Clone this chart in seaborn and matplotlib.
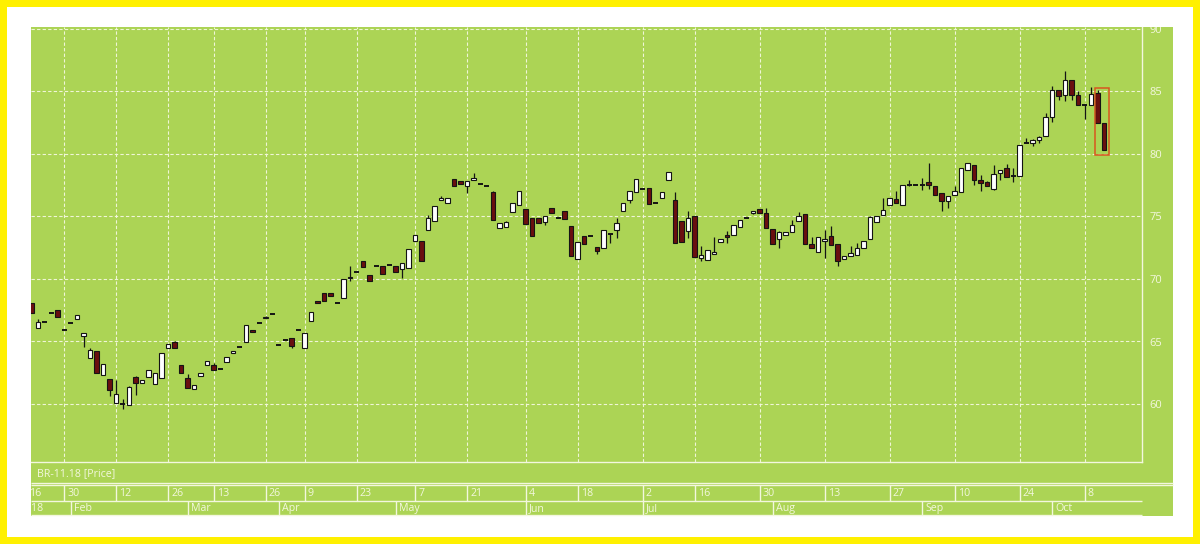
import numpy as np
import pandas as pd
import matplotlib
matplotlib.use("Agg")
import matplotlib.pyplot as plt
import matplotlib.transforms as mtransforms
from matplotlib.patches import Rectangle
import seaborn as sns

# ── data ─────────────────────────────────────────────────────────────────────
opens = [68.1, 66.1, 66.6, 67.25, 67.5, 65.9, 66.5, 66.8, 65.45, 63.7,
         64.25, 62.3, 62.0, 60.1, 60.0, 59.9, 62.2, 61.7, 62.2, 61.6,
         62.1, 64.45, 65.0, 63.1, 62.1, 61.2, 62.25, 63.15, 63.1, 62.8,
         63.35, 64.05, 64.6, 65.0, 65.9, 66.5, 66.85, 67.2, 64.75, 65.15,
         65.25, 65.9, 64.5, 66.65, 68.2, 68.9, 68.9, 68.05, 68.5, 70.15,
         70.55, 71.4, 70.3, 71.05, 71.0, 71.15, 71.05, 70.8, 70.85, 73.05,
         73.05, 73.95, 74.65, 76.3, 76.1, 78.0, 77.8, 77.45, 77.9, 77.6,
         77.4, 77.0, 74.05, 74.2, 75.35, 75.95, 75.6, 74.85, 74.9, 74.6,
         75.65, 74.85, 75.45, 74.25, 71.6, 73.45, 73.45, 72.55, 72.5, 73.6,
         73.95, 75.45, 76.3, 76.95, 77.2, 77.25, 76.05, 76.5, 77.95, 76.3,
         74.65, 73.85, 75.0, 71.65, 71.5, 72.0, 73.0, 73.5, 73.5, 74.2,
         74.9, 75.25, 75.6, 75.25, 74.0, 73.2, 73.5, 73.8, 74.65, 75.2,
         72.8, 72.2, 73.05, 73.4, 72.8, 71.6, 71.85, 71.95, 72.5, 73.2,
         74.6, 75.15, 75.9, 76.4, 75.9, 77.55, 77.55, 77.5, 77.8, 77.45,
         76.9, 76.2, 76.7, 77.0, 78.75, 79.15, 77.95, 77.8, 77.2, 78.5,
         78.85, 78.2, 78.25, 80.85, 80.9, 81.1, 81.4, 82.95, 85.1, 84.7,
         85.9, 84.75, 83.9, 83.9, 84.9, 82.5]
highs = [68.1, 66.8, 66.6, 67.25, 67.5, 65.9, 66.5, 67.1, 65.7, 64.5,
         64.25, 63.2, 62.0, 61.9, 60.4, 61.4, 62.2, 61.9, 62.7, 62.5,
         64.1, 64.8, 65.0, 63.1, 62.4, 61.5, 62.45, 63.45, 63.3, 62.8,
         63.75, 64.2, 64.6, 66.3, 65.9, 66.5, 67.0, 67.2, 64.75, 65.15,
         65.25, 65.9, 65.65, 67.35, 68.2, 68.9, 68.9, 68.05, 70.0, 71.0,
         70.55, 71.4, 70.3, 71.05, 71.0, 71.15, 71.05, 71.25, 72.4, 73.5,
         73.05, 75.1, 75.85, 76.6, 76.5, 78.0, 77.8, 77.85, 78.45, 77.6,
         77.4, 77.0, 74.5, 74.6, 76.05, 77.05, 75.6, 74.85, 74.9, 75.05,
         75.65, 74.85, 75.45, 74.25, 72.95, 73.45, 73.45, 72.55, 73.9, 73.6,
         74.9, 76.1, 77.05, 78.0, 77.2, 77.25, 76.05, 76.95, 78.55, 76.95,
         74.65, 75.4, 75.0, 72.6, 72.3, 73.35, 73.2, 73.8, 74.3, 74.75,
         74.9, 75.45, 75.6, 75.7, 74.0, 73.8, 73.75, 74.7, 75.35, 75.2,
         73.35, 73.35, 73.9, 74.25, 72.8, 71.85, 72.65, 72.9, 73.05, 75.0,
         75.05, 76.5, 76.45, 77.0, 77.5, 77.9, 77.55, 78.1, 79.3, 77.45,
         76.9, 76.65, 77.4, 78.85, 79.3, 79.15, 78.3, 77.8, 79.1, 78.75,
         79.2, 78.9, 80.7, 81.3, 81.2, 81.45, 83.3, 85.4, 85.1, 86.65,
         85.9, 85.0, 83.9, 85.35, 85.1, 82.5]
lows = [67.3, 66.1, 66.6, 67.25, 67.0, 65.9, 66.5, 66.8, 64.6, 63.7,
        62.45, 62.3, 60.6, 60.1, 59.6, 59.9, 60.7, 61.7, 62.2, 61.6,
        62.1, 64.45, 64.5, 62.45, 61.25, 61.2, 62.25, 63.15, 62.7, 62.8,
        63.35, 64.05, 64.6, 65.0, 65.75, 66.5, 66.85, 67.2, 64.75, 65.15,
        64.45, 65.9, 64.5, 66.65, 68.05, 68.25, 68.65, 68.05, 68.5, 69.8,
        70.55, 70.95, 69.85, 71.05, 70.4, 71.15, 70.6, 70.1, 70.85, 73.05,
        71.45, 73.95, 74.65, 76.3, 76.1, 77.4, 77.6, 76.9, 77.9, 77.6,
        77.4, 74.7, 74.05, 74.2, 75.35, 75.95, 74.4, 73.45, 74.45, 74.3,
        75.25, 74.85, 74.8, 71.85, 71.6, 72.8, 73.45, 72.0, 72.5, 72.85,
        73.3, 75.45, 76.1, 76.95, 77.2, 76.0, 76.05, 76.5, 77.95, 72.85,
        73.0, 73.3, 71.8, 71.4, 71.5, 72.0, 73.0, 72.9, 73.5, 74.2,
        74.9, 75.2, 75.3, 74.1, 72.8, 72.5, 73.5, 73.8, 74.65, 72.8,
        72.5, 72.2, 71.65, 72.7, 71.0, 71.6, 71.85, 71.95, 72.5, 73.2,
        74.6, 75.15, 75.9, 76.1, 75.9, 77.4, 77.55, 77.1, 77.2, 76.7,
        75.4, 75.65, 76.7, 77.0, 78.75, 77.5, 77.0, 77.4, 77.1, 77.9,
        78.15, 77.75, 78.25, 80.85, 80.6, 80.9, 81.4, 82.6, 84.3, 84.2,
        84.3, 83.95, 82.8, 83.9, 82.45, 80.3]
closes = [67.3, 66.6, 66.6, 67.25, 67.0, 65.9, 66.5, 67.1, 65.65, 64.3,
          62.45, 63.2, 61.1, 60.8, 60.0, 61.4, 61.65, 61.9, 62.7, 62.5,
          64.1, 64.8, 64.5, 62.45, 61.25, 61.5, 62.45, 63.45, 62.7, 62.8,
          63.75, 64.2, 64.6, 66.3, 65.75, 66.5, 67.0, 67.2, 64.75, 65.15,
          64.65, 65.9, 65.65, 67.35, 68.05, 68.25, 68.65, 68.05, 70.0, 70.05,
          70.55, 70.95, 69.85, 71.05, 70.4, 71.15, 70.6, 71.25, 72.4, 73.5,
          71.45, 74.85, 75.85, 76.5, 76.5, 77.4, 77.6, 77.85, 78.1, 77.6,
          77.4, 74.7, 74.5, 74.6, 76.05, 77.05, 74.4, 73.45, 74.45, 75.05,
          75.25, 74.85, 74.8, 71.85, 72.95, 72.8, 73.45, 72.25, 73.9, 73.6,
          74.5, 76.1, 77.05, 78.0, 77.2, 76.0, 76.05, 76.95, 78.55, 72.85,
          73.0, 74.9, 71.8, 71.9, 72.3, 72.15, 73.2, 73.35, 74.3, 74.75,
          74.9, 75.45, 75.3, 74.1, 72.8, 73.8, 73.75, 74.35, 75.0, 72.8,
          72.5, 73.35, 73.2, 72.7, 71.45, 71.85, 72.05, 72.5, 73.05, 75.0,
          75.05, 75.55, 76.45, 76.1, 77.5, 77.55, 77.55, 77.5, 77.5, 76.7,
          76.2, 76.65, 77.0, 78.85, 79.3, 77.9, 77.65, 77.4, 78.4, 78.75,
          78.15, 78.2, 80.7, 80.85, 81.1, 81.35, 82.95, 85.1, 84.65, 85.95,
          84.75, 83.95, 83.9, 84.8, 82.45, 80.3]

# bar index of each date label (the chart only spaces traded sessions)
day_ticks = [-0.8, 5, 13, 21, 28, 36, 42, 50, 59, 67, 76, 84, 94, 102,
             112, 122, 132, 142, 152, 162]
day_labels = ["16", "30", "12", "26", "13", "26", "9", "23", "7", "21",
              "4", "18", "2", "16", "30", "13", "27", "10", "24", "8"]
month_ticks = [-2.4, 6, 24, 38, 56, 76, 94, 114, 137, 157]
month_labels = ["2018", "Feb", "Mar", "Apr", "May", "Jun", "Jul", "Aug",
                "Sep", "Oct"]
price_ticks = [60, 65, 70, 75, 80, 85, 90]
instrument = "BR-11.18 [Price]"

# ── style ────────────────────────────────────────────────────────────────────
GREEN = "#acd455"
YELLOW = "#fff000"
CREAM = "#f3f7de"
INK = "#141414"
MAROON = "#6a0f0f"
FS = 7.7

sns.set_theme(style="ticks", rc={"axes.facecolor": GREEN})
plt.rcParams["font.family"] = ["Open Sans", "DejaVu Sans"]

df = pd.DataFrame({"open": opens, "high": highs, "low": lows, "close": closes})
df["x"] = np.arange(len(df))
df["flat"] = df["open"] == df["close"]
df["up"] = df["close"] > df["open"]

W, H = 1200, 544
fig = plt.figure(figsize=(W / 100, H / 100), dpi=100, facecolor=YELLOW)

def fx(px):
    return px / W

def fy(py):
    return 1 - py / H

fig.patches.append(Rectangle((fx(7), fy(537)), fx(1186), 530 / H,
                             transform=fig.transFigure, fc="white", ec="none", zorder=-2))
panel = Rectangle((fx(30.7), fy(516)), fx(1173 - 30.7), 489 / H,
                  transform=fig.transFigure, fc=GREEN, ec="none", zorder=-1)
fig.patches.append(panel)

# main price axes
ax = fig.add_axes([fx(30.7), fy(462), fx(1141.5 - 30.7), 435 / H])
ax.set_facecolor("none")
ax.set_xlim(-0.154, -0.154 + 1110.8 / 6.5)
ax.set_ylim(90 - 433 / 12.5, 90 + 2 / 12.5)

# wicks
ax.vlines(df["x"], df["low"], df["high"], color=INK, lw=0.9, zorder=2)
# bodies
body = df[~df["flat"]]
ax.bar(body["x"], (body["close"] - body["open"]).abs(),
       bottom=body[["open", "close"]].min(axis=1), width=0.7,
       color=np.where(body["up"], "white", MAROON), edgecolor=INK,
       linewidth=0.8, zorder=3)
# dojis
doji = df[df["flat"]]
ax.hlines(doji["close"], doji["x"] - 0.36, doji["x"] + 0.36, color=INK, lw=1.4, zorder=3)

# highlight box around the last two sessions
last = df.tail(2)
ax.add_patch(Rectangle((last["x"].iloc[0] - 0.4, last["low"].min() - 0.38),
                       last["x"].iloc[1] - last["x"].iloc[0] + 1.2,
                       last["high"].max() - last["low"].min() + 0.54,
                       fill=False, ec="#d8561f", lw=1.1, zorder=4))

# grid
ax.set_xticks(day_ticks[1:])
ax.set_yticks(price_ticks)
ax.set_yticks(np.arange(56, 91, 1), minor=True)
ax.grid(True, which="major", color=CREAM, lw=0.8, ls=(0, (3, 2)), alpha=0.95)
ax.grid(False, which="minor")
ax.tick_params(axis="x", length=0, labelbottom=False)
ax.yaxis.tick_right()
ax.tick_params(axis="y", which="major", length=5, width=1, color=CREAM,
               labelcolor=CREAM, labelsize=FS + 0.3, pad=1)
ax.tick_params(axis="y", which="minor", length=2.5, width=1, color=CREAM)
sns.despine(ax=ax, left=True, top=True, right=False, bottom=False)
for side in ("right", "bottom"):
    ax.spines[side].set_color(CREAM)
    ax.spines[side].set_linewidth(1.0)

# date band below
axd = fig.add_axes([fx(30.7), fy(516), fx(1141.5 - 30.7), 54 / H], sharex=ax)
axd.set_facecolor("none")
axd.set_ylim(516, 462)
axd.set_axis_off()
blend = mtransforms.blended_transform_factory(axd.transAxes, axd.transData)
axd.text(fx(6) / fx(1110.8), 474, instrument, transform=blend, color=CREAM,
         fontsize=FS, va="center", ha="left")
axd.hlines([483.3, 485.3], 0, (1173 - 30.7) / 1110.8, transform=blend,
           color=CREAM, lw=1, clip_on=False)
axd.hlines([500.5, 515.3], 0, 1, transform=blend, color=CREAM, lw=1, clip_on=False)
axd.vlines(day_ticks, 485.3, 500.5, color=CREAM, lw=1)
axd.vlines(month_ticks, 500.5, 515.3, color=CREAM, lw=1)
shift = mtransforms.ScaledTranslation(3 / 100, 0, fig.dpi_scale_trans)
for pos, lab in zip(day_ticks, day_labels):
    axd.text(pos, 493.2, lab, transform=axd.transData + shift, color=CREAM,
             fontsize=FS, va="center", ha="left", clip_on=True)
for pos, lab in zip(month_ticks, month_labels):
    axd.text(pos, 508.3, lab, transform=axd.transData + shift, color=CREAM,
             fontsize=FS, va="center", ha="left", clip_on=True)

fig.canvas.draw()
for lbl in ax.get_yticklabels():
    lbl.set_clip_path(panel)

fig.savefig("out.png", dpi=100, facecolor=YELLOW)
